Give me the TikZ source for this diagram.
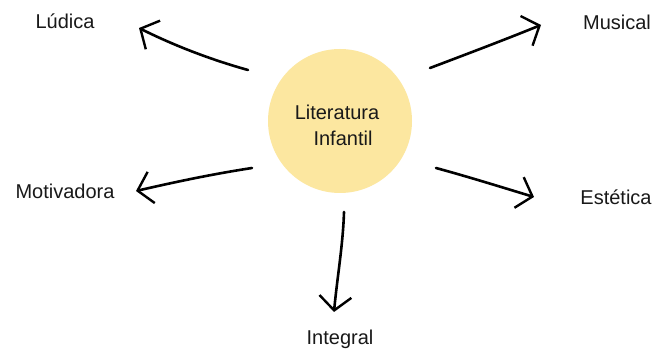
\documentclass[tikz,border=0pt]{standalone}
\usepackage{fontspec}
\setmainfont{Liberation Sans}
\usetikzlibrary{arrows.meta}
\definecolor{sunfill}{RGB}{252,231,160}
\definecolor{inktext}{RGB}{25,25,25}
\begin{document}
\begin{tikzpicture}[x=1pt,y=-1pt,
  lbl/.style={font=\fontsize{20}{26}\selectfont, text=inktext, inner sep=0pt},
  handarrow/.style={line width=2.6pt, line cap=round, draw=black,
    -{Straight Barb[length=14pt,width=32pt,line width=2.4pt]}}]
\useasboundingbox (0,0) rectangle (654,352);
\fill[white] (0,0) rectangle (654,352);
\node[circle, fill=sunfill, minimum size=144pt, inner sep=0pt] (sun) at (340,121) {};
\node[lbl, align=center] (title) at (337,125) {Literatura\\\hspace{12pt}Infantil};
\node[lbl] (ludica) at (65,21) {Lúdica};
\node[lbl] (musical) at (617,22) {Musical};
\node[lbl] (motiv) at (65,191) {Motivadora};
\node[lbl] (estet) at (616,197) {Estética};
\node[lbl] (integ) at (340,339) {Integral};
\coordinate (s1) at (248,70);  \coordinate (t1) at (139,28);
\coordinate (s2) at (430,68);  \coordinate (t2) at (541,25);
\coordinate (s3) at (252,168); \coordinate (t3) at (136,191);
\coordinate (s4) at (436,168); \coordinate (t4) at (534,197);
\coordinate (s5) at (344,212); \coordinate (t5) at (334,312);
\draw[handarrow] (s1) .. controls (212,60) and (175,46) .. (t1);
\draw[handarrow] (s2) .. controls (467,54) and (504,40) .. (t2);
\draw[handarrow] (s3) .. controls (213,174) and (175,182) .. (t3);
\draw[handarrow] (s4) .. controls (469,177) and (501,187) .. (t4);
\draw[handarrow] (s5) .. controls (343,245) and (337,279) .. (t5);
\end{tikzpicture}
\end{document}
